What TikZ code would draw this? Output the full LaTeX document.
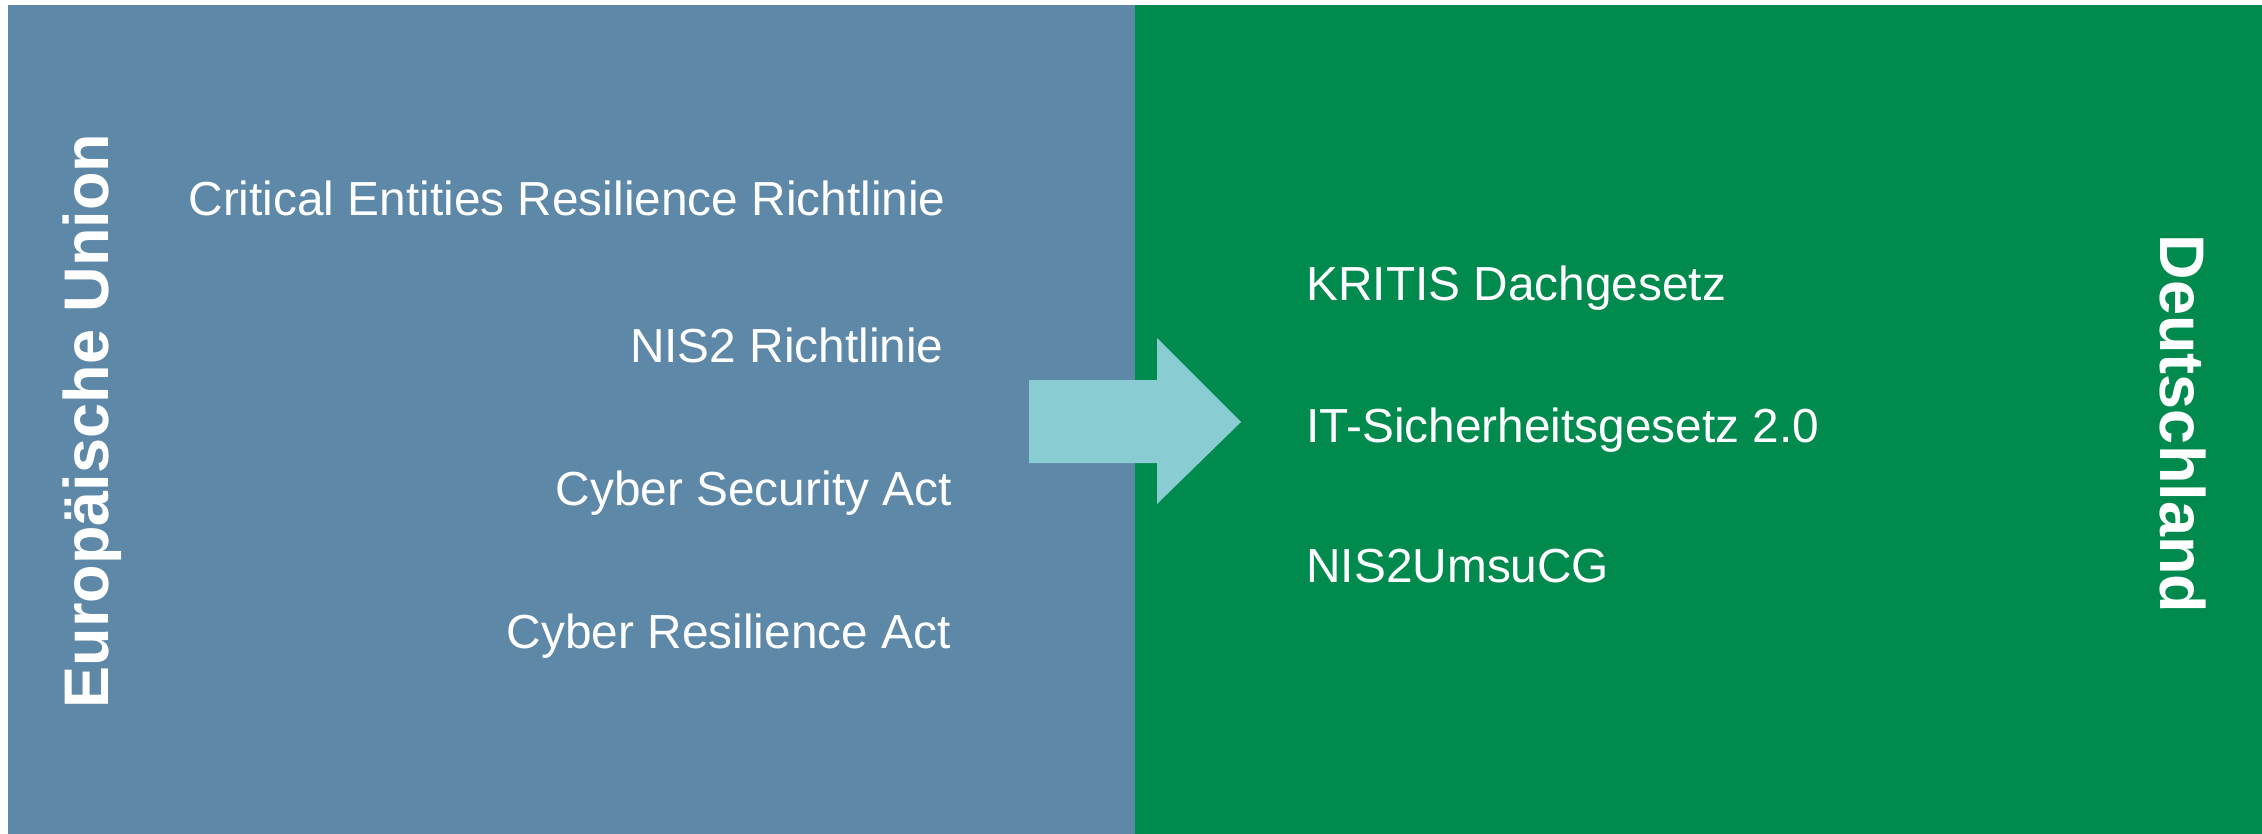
\documentclass[tikz,border=0pt]{standalone}
\usepackage{fontspec}
\setmainfont{Liberation Sans}
\definecolor{eublue}{RGB}{94,136,168}
\definecolor{degreen}{RGB}{0,138,78}
\definecolor{arrowcyan}{RGB}{137,205,211}
\begin{document}
\begin{tikzpicture}[x=0.5pt,y=-0.5pt,
  item/.style={text=white,inner sep=0pt,font=\fontsize{23.9}{28}\selectfont},
  title/.style={text=white,inner sep=0pt,font=\fontsize{31.5}{36}\selectfont\bfseries}]
\useasboundingbox (0,0) rectangle (2262,834);
\fill[white] (0,0) rectangle (2262,834);
\fill[eublue] (8,5) rectangle (1135,834);
\fill[degreen] (1135,5) rectangle (2262,834);
% arrow
\fill[arrowcyan] (1029,380) -- (1157,380) -- (1157,338) -- (1241,422) -- (1157,504) -- (1157,463) -- (1029,463) -- cycle;
% EU items
\node[item,anchor=base east] (cer) at (946,216) {Critical Entities Resilience Richtlinie};
\node[item,anchor=base east] (nis) at (944,362) {NIS2 Richtlinie};
\node[item,anchor=base east] (csa) at (952,505) {Cyber Security Act};
\node[item,anchor=base east] (cra) at (951,648) {Cyber Resilience Act};
% DE items
\node[item,anchor=base west] (kritis) at (1306,300) {KRITIS Dachgesetz};
\node[item,anchor=base west] (itsig) at (1306,442) {IT-Sicherheitsgesetz 2.0};
\node[item,anchor=base west] (nisde) at (1306,582) {NIS2UmsuCG};
% titles
\node[title,anchor=base,rotate=90] (eu) at (108,421) {Europäische Union};
\node[title,anchor=base,rotate=-90] (de) at (2160,424) {Deutschland};
\end{tikzpicture}
\end{document}
